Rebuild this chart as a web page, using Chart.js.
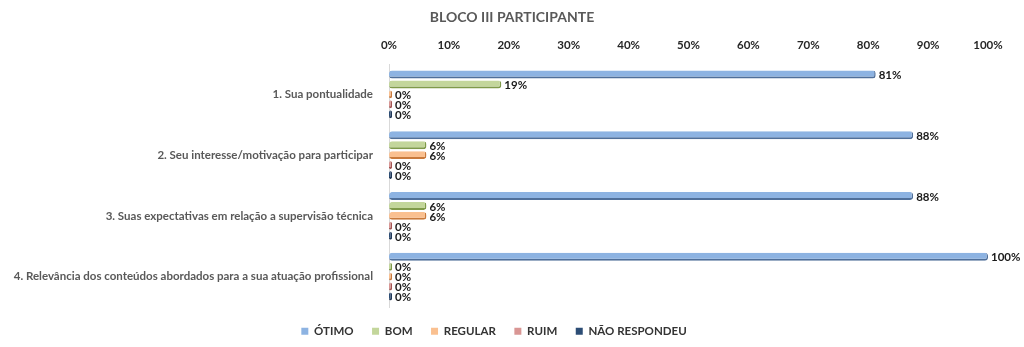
<!DOCTYPE html>
<html>
<head>
<meta charset="utf-8">
<script src="https://cdn.jsdelivr.net/npm/chart.js@4/dist/chart.umd.min.js"></script>
<style>
  html, body { margin: 0; padding: 0; background: #fff; }
  #wrap { width: 1024px; height: 347px; position: relative; }
</style>
</head>
<body>
<div id="wrap"><canvas id="blocoChart"></canvas></div>
<script>
// bloco III - participante (16 respostas)
const titulo = "BLOCO III PARTICIPANTE";
const perguntas = [
  "1. Sua pontualidade",
  "2. Seu interesse/motivação para participar",
  "3. Suas expectativas em relação a supervisão técnica",
  "4. Relevância dos conteúdos abordados para a sua atuação profissional"
];
const otimo = [81.25, 87.5, 87.5, 100];
const bom = [18.75, 6.25, 6.25, 0];
const regular = [0, 6.25, 6.25, 0];
const ruim = [0, 0, 0, 0];
const naoRespondeu = [0, 0, 0, 0];
const ticksPct = [0, 10, 20, 30, 40, 50, 60, 70, 80, 90, 100];

const FONT = "Lato, 'Open Sans', sans-serif";

function serie(label, data, fill, edge) {
  return {
    label: label,
    data: data,
    backgroundColor: fill,
    borderColor: edge,
    borderWidth: { top: 0, left: 0, right: 1.5, bottom: 2 },
    borderRadius: 3,
    borderSkipped: false,
    minBarLength: 3,
    categoryPercentage: 0.82,
    barPercentage: 0.8
  };
}

// percent labels at the end of each bar
const rotulos = {
  id: "rotulos",
  afterDatasetsDraw(chart) {
    const c = chart.ctx;
    c.save();
    c.font = "bold 11.5px " + FONT;
    c.fillStyle = "#1a1a1a";
    c.textBaseline = "middle";
    c.textAlign = "left";
    chart.data.datasets.forEach((ds, i) => {
      chart.getDatasetMeta(i).data.forEach((bar, j) => {
        c.fillText(ds.data[j].toFixed(0) + "%", bar.x + 3, bar.y + 1);
      });
    });
    c.restore();
  }
};

// title centred on the whole canvas, not on the padded box
const cabecalho = {
  id: "cabecalho",
  afterDraw(chart) {
    const c = chart.ctx;
    c.save();
    c.font = "bold 14px " + FONT;
    c.fillStyle = "#595959";
    c.textAlign = "center";
    c.textBaseline = "middle";
    c.fillText(titulo, chart.width / 2, 17);
    c.restore();
  }
};

new Chart(document.getElementById("blocoChart"), {
  type: "bar",
  data: {
    labels: perguntas,
    datasets: [
      serie("ÓTIMO", otimo, "#8db3e2", "#4f6f9a"),
      serie("BOM", bom, "#c3d69b", "#7f9a4a"),
      serie("REGULAR", regular, "#fac090", "#c97a3c"),
      serie("RUIM", ruim, "#d99694", "#a35452"),
      serie("NÃO RESPONDEU", naoRespondeu, "#2c4d75", "#1f3656")
    ]
  },
  options: {
    indexAxis: "y",
    responsive: true,
    maintainAspectRatio: false,
    animation: false,
    layout: { padding: { top: 34, right: 36, bottom: 0, left: 0 } },
    plugins: {
      title: { display: false },
      legend: {
        position: "bottom",
        labels: {
          color: "#333333",
          font: { family: FONT, size: 11.5, weight: "bold" },
          boxWidth: 7,
          boxHeight: 7,
          padding: 18.5,
          generateLabels(chart) {
            return chart.data.datasets.map((ds, i) => ({
              text: ds.label,
              fillStyle: ds.backgroundColor,
              strokeStyle: ds.backgroundColor,
              lineWidth: 0,
              datasetIndex: i,
              fontColor: "#333333"
            }));
          }
        }
      },
      tooltip: { enabled: false }
    },
    scales: {
      x: {
        position: "top",
        min: 0,
        max: 100,
        afterBuildTicks(scale) {
          scale.ticks = ticksPct.map(v => ({ value: v }));
        },
        afterFit(scale) { scale.height = 30; },
        ticks: {
          color: "#262626",
          font: { family: FONT, size: 11.5, weight: "bold" },
          padding: 4,
          callback: v => v + "%"
        },
        grid: { display: false },
        border: { display: false }
      },
      y: {
        afterFit(scale) { scale.width = 389; },
        ticks: {
          color: "#595959",
          font: { family: FONT, size: 11.5, weight: "bold" },
          padding: 8
        },
        grid: { display: false },
        border: { display: true, color: "#d9d9d9", width: 1 }
      }
    }
  },
  plugins: [rotulos, cabecalho]
});
</script>
</body>
</html>
